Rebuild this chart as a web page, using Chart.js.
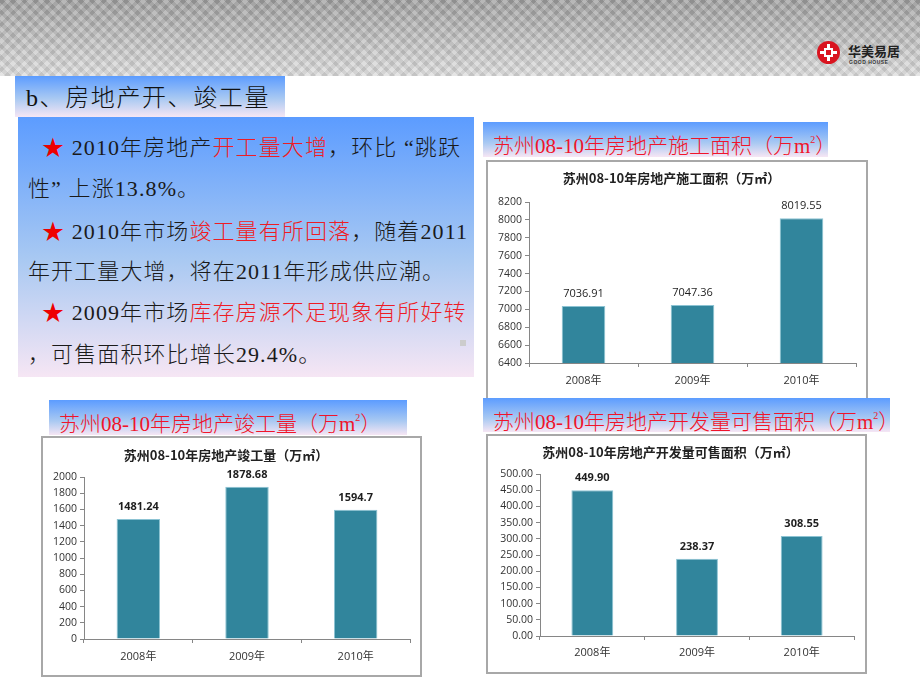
<!DOCTYPE html>
<html>
<head>
<meta charset="utf-8">
<script src="https://cdn.jsdelivr.net/npm/chart.js@4"></script>
<style>
  body { margin:0; width:920px; height:690px; background:#fff; position:relative; overflow:hidden;
         font-family:"Liberation Serif","Noto Sans CJK SC",serif; }
  .abs { position:absolute; }
  /* faixa cinza do topo */
  .header { left:0; top:0; width:920px; height:76px;
    background:
      repeating-linear-gradient(45deg, rgba(255,255,255,0.13) 0 4px, rgba(0,0,0,0.06) 4px 8px),
      repeating-linear-gradient(-45deg, rgba(255,255,255,0.13) 0 4px, rgba(0,0,0,0.06) 4px 8px),
      linear-gradient(#a0a0a0, #dedede); }
  .grad { background:linear-gradient(#5c9cff, #a9c9f2 55%, #f6e6f4); }
  .title { left:15px; top:76px; width:270px; height:41px; font-size:24px; color:#111; font-weight:300;
           line-height:44px; padding-left:11px; box-sizing:border-box; letter-spacing:1.6px; }
  .box { left:18px; top:117px; width:456px; height:260px; }
  .line { position:absolute; white-space:nowrap; font-size:22px; line-height:24px; color:#1a1a1a;
          letter-spacing:1.1px; font-weight:300; }
  .red { color:#ee1c25; }
  .star { color:#e00; }
  .banner { font-size:21px; color:#f0142a; line-height:36px; white-space:nowrap; padding-left:10px; box-sizing:border-box;
            font-weight:300; background:linear-gradient(#5c9cff, #a9c9f2 60%, #f6e6f4); }
  .frame { border:2px solid #a8a8a8; box-sizing:border-box; background:#fff; }
  canvas { position:absolute; }
  sup { font-size:10px; vertical-align:10px; }
</style>
</head>
<body>
<div class="abs header"></div>
<!-- logo -->
<div class="abs" style="left:817px;top:41px;width:23px;height:23px;border-radius:50%;background:#d9141f;"></div>
<div class="abs" style="left:820px;top:51px;width:17px;height:3px;background:#fff;"></div>
<div class="abs" style="left:827px;top:44px;width:3px;height:17px;background:#fff;"></div>
<div class="abs" style="left:824px;top:48px;width:9px;height:9px;border:2px solid #fff;box-sizing:border-box;background:#d9141f;"></div>
<div class="abs" style="left:848px;top:43px;font:bold 13px 'Noto Sans CJK SC';color:#222;line-height:16px;">华美易居</div>
<div class="abs" style="left:849px;top:59px;font:bold 5px 'Liberation Sans';color:#333;letter-spacing:0.5px;">GOOD HOUSE</div>

<div class="abs title grad">b、房地产开、竣工量</div>

<div class="abs box grad">
  <div class="line" style="left:24px;top:19px;"><span class="star">★</span> 2010年房地产<span class="red">开工量大增</span>，环比 “跳跃</div>
  <div class="line" style="left:10px;top:60px;">性” 上涨13.8%。</div>
  <div class="line" style="left:24px;top:103px;"><span class="star">★</span> 2010年市场<span class="red">竣工量有所回落</span>，随着2011</div>
  <div class="line" style="left:10px;top:143px;">年开工量大增，将在2011年形成供应潮。</div>
  <div class="line" style="left:24px;top:184px;"><span class="star">★</span> 2009年市场<span class="red">库存房源不足现象有所好转</span></div>
  <div class="line" style="left:10px;top:226px;">，可售面积环比增长29.4%。</div>
  <div class="abs" style="left:442px;top:223px;width:6px;height:6px;background:#ccc;"></div>
</div>

<!-- grafico 1 -->
<div class="abs banner" style="left:483px;top:122px;width:345px;height:35px;">苏州08-10年房地产施工面积（万m<sup>2</sup>）</div>
<div class="abs frame" style="left:486px;top:160px;width:382px;height:245px;"></div>
<canvas id="c1" width="380" height="236" style="left:487px;top:162px;"></canvas>

<!-- grafico 2 -->
<div class="abs banner" style="left:49px;top:400px;width:358px;height:35px;">苏州08-10年房地产竣工量（万m<sup>2</sup>）</div>
<div class="abs frame" style="left:41px;top:436px;width:381px;height:241px;"></div>
<canvas id="c2" width="379" height="239" style="left:42px;top:437px;"></canvas>

<!-- grafico 3 -->
<div class="abs banner" style="left:483px;top:398px;width:407px;height:34px;z-index:2;">苏州08-10年房地产开发量可售面积（万m<sup>2</sup>）</div>
<div class="abs frame" style="left:486px;top:434px;width:381px;height:240px;"></div>
<canvas id="c3" width="379" height="238" style="left:487px;top:435px;"></canvas>

<script>
// dados
const anos = ["2008年", "2009年", "2010年"];
const areaConstrucao = [7036.91, 7047.36, 8019.55];
const areaConcluida = [1481.24, 1878.68, 1594.7];
const areaVendavel = [449.90, 238.37, 308.55];
// escala do eixo y: [min, max, passo]
const escalaConstrucao = [6400, 8200, 200];
const escalaConcluida = [0, 2000, 200];
const escalaVendavel = [0, 500, 50];

const corBarra = "#31859c";
const corEixo = "#868686";
const fonteEixo = "'Open Sans','Noto Sans CJK SC',sans-serif";

// plugin simples para escrever o valor em cima de cada barra
const rotulos = {
  id: "rotulos",
  afterDatasetsDraw(chart, args, opts) {
    const ctx = chart.ctx;
    const meta = chart.getDatasetMeta(0);
    ctx.save();
    ctx.font = (opts.bold ? "bold " : "") + "11px " + fonteEixo;
    ctx.fillStyle = "#1e1e1e";
    ctx.textAlign = "center";
    ctx.textBaseline = "middle";
    meta.data.forEach((bar, i) => {
      const v = chart.data.datasets[0].data[i];
      ctx.fillText(opts.fmt(v), bar.x, bar.y - 12);
    });
    ctx.restore();
  }
};

function criarGrafico(id, titulo, valores, escala, cfg) {
  return new Chart(document.getElementById(id), {
    type: "bar",
    data: {
      labels: anos,
      datasets: [{
        data: valores,
        backgroundColor: corBarra,
        borderColor: "#8cc3d3",
        borderWidth: 1,
        categoryPercentage: 1,
        barPercentage: 0.4
      }]
    },
    options: {
      responsive: false,
      animation: false,
      layout: { padding: { left: 0, right: cfg.right, top: 6, bottom: 0 } },
      plugins: {
        legend: { display: false },
        tooltip: { enabled: false },
        title: {
          display: true,
          text: titulo,
          color: "#222",
          font: { family: "'Noto Sans CJK SC',sans-serif", size: 13, weight: "bold", lineHeight: 1.2 },
          padding: { top: cfg.titTop, bottom: cfg.titBottom }
        },
        rotulos: { bold: cfg.bold, fmt: cfg.fmt }
      },
      scales: {
        x: {
          grid: { display: true, drawOnChartArea: false, drawTicks: true, tickLength: 4, color: corEixo },
          border: { color: corEixo },
          ticks: { color: "#333", padding: cfg.xPad, font: { family: fonteEixo, size: 11 } },
          afterFit: s => { s.height = cfg.xH; }
        },
        y: {
          min: escala[0], max: escala[1],
          grid: { display: true, drawOnChartArea: false, drawTicks: true, tickLength: 4, color: corEixo },
          border: { color: corEixo },
          ticks: {
            stepSize: escala[2], color: "#333", padding: 3,
            font: { family: fonteEixo, size: 10.5 },
            callback: v => cfg.tick(v)
          },
          afterFit: s => { s.width = cfg.yW; }
        }
      }
    },
    plugins: [rotulos]
  });
}

criarGrafico("c1", "苏州08-10年房地产施工面积（万㎡）", areaConstrucao, escalaConstrucao,
  { right: 11, titTop: 2, titBottom: 16.4, yW: 42, xH: 35, xPad: 7, bold: false,
    fmt: v => String(v), tick: v => String(v) });

criarGrafico("c2", "苏州08-10年房地产竣工量（万㎡）", areaConcluida, escalaConcluida,
  { right: 11, titTop: 4, titBottom: 14.4, yW: 42, xH: 37, xPad: 7, bold: true,
    fmt: v => String(v), tick: v => String(v) });

criarGrafico("c3", "苏州08-10年房地产开发量可售面积（万㎡）", areaVendavel, escalaVendavel,
  { right: 12, titTop: 3, titBottom: 14.4, yW: 53, xH: 37, xPad: 6, bold: true,
    fmt: v => v.toFixed(2), tick: v => v.toFixed(2) });
</script>
</body>
</html>
